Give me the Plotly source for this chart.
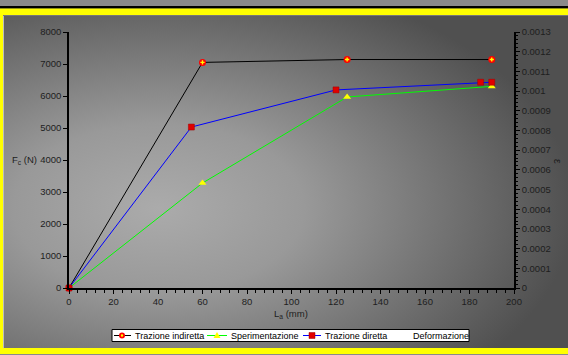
import base64
import plotly.graph_objects as go

# ---- data ----
x_indiretta = [0, 60, 125, 190]
y_indiretta = [0, 7050, 7140, 7140]
x_sperim = [0, 60, 125, 190]
y_sperim = [0, 3280, 5970, 6300]
x_diretta = [0, 55, 120, 185, 190]
y_diretta = [0, 5030, 6190, 6430, 6430]
x_deform = [0]
y_deform = [0]
y2_tickvals = [0, 0.0001, 0.0002, 0.0003, 0.0004, 0.0005, 0.0006, 0.0007,
               0.0008, 0.0009, 0.001, 0.0011, 0.0012, 0.0013]
y2_ticktext = ["0", "0.0001", "0.0002", "0.0003", "0.0004", "0.0005", "0.0006",
               "0.0007", "0.0008", "0.0009", "0.001", "0.0011", "0.0012", "0.0013"]
legend_names = ["Trazione indiretta", "Sperimentazione", "Trazione diretta", "Deformazione"]

W, H = 568, 355
L, R, T, B = 69, 514, 32, 288  # plot area in px
pw, ph = R - L, B - T

def px(x):
    return (x - L) / pw

def py(y):
    return (B - y) / ph

FONT = "Liberation Sans, Arial, sans-serif"
TXT = "#1e1e1e"
EDGE = "#505050"
YEL = "#ffff00"

fig = go.Figure()
fig.add_trace(go.Scatter(
    x=x_indiretta, y=y_indiretta, name=legend_names[0], mode="lines+markers",
    line=dict(color="black", width=1),
    marker=dict(symbol="circle", size=7, color="#ff0000", line=dict(width=0)),
    cliponaxis=False, showlegend=False))
fig.add_trace(go.Scatter(
    x=x_indiretta, y=y_indiretta, mode="markers", showlegend=False, hoverinfo="skip",
    marker=dict(symbol="cross", size=3.5, color=YEL, line=dict(width=0)),
    cliponaxis=False))
fig.add_trace(go.Scatter(
    x=x_sperim, y=y_sperim, name=legend_names[1], mode="lines+markers",
    line=dict(color="#00ff00", width=1),
    marker=dict(symbol="triangle-up", size=7, color=YEL, line=dict(width=0)),
    cliponaxis=False, showlegend=False))
fig.add_trace(go.Scatter(
    x=x_diretta, y=y_diretta, name=legend_names[2], mode="lines+markers",
    line=dict(color="#0000ff", width=1),
    marker=dict(symbol="square", size=6, color="#e00000", line=dict(color="#a00000", width=0.5)),
    cliponaxis=False, showlegend=False))
fig.add_trace(go.Scatter(
    x=x_deform, y=y_deform, name=legend_names[3], mode="lines", yaxis="y2",
    line=dict(color="rgba(0,0,0,0)", width=0), showlegend=False, hoverinfo="skip"))

# gradient panel as svg image (extends past the right edge, clipped by the page)
GX0, GY0, GX1, GY1 = 3, 15, W + 12, 348
GW, GH = GX1 - GX0, GY1 - GY0
svg = f'''<svg xmlns="http://www.w3.org/2000/svg" width="{GW}" height="{GH}" viewBox="0 0 {GW} {GH}" preserveAspectRatio="none">
<defs><radialGradient id="g" cx="0.27" cy="0.58" r="0.72" gradientUnits="objectBoundingBox">
<stop offset="0" stop-color="#ababab"/><stop offset="0.35" stop-color="#999999"/>
<stop offset="1" stop-color="{EDGE}"/></radialGradient></defs>
<rect x="0" y="0" width="{GW}" height="{GH}" fill="url(#g)"/>
</svg>'''
src = "data:image/svg+xml;base64," + base64.b64encode(svg.encode()).decode()
fig.add_layout_image(dict(source=src, xref="paper", yref="paper",
                          x=px(GX0), y=py(GY0), sizex=GW / pw, sizey=GH / ph,
                          sizing="stretch", layer="below", xanchor="left", yanchor="top"))

def prect(x0, y0, x1, y1, fill, line_color=None, lw=0, layer="above"):
    return dict(type="rect", xref="paper", yref="paper", x0=px(x0), x1=px(x1), y0=py(y0), y1=py(y1),
                fillcolor=fill, line=dict(width=lw, color=line_color or fill), layer=layer)

def pline(x0, y0, x1, y1, color, lw=1, layer="above"):
    return dict(type="line", xref="paper", yref="paper", x0=px(x0), x1=px(x1), y0=py(y0), y1=py(y1),
                line=dict(color=color, width=lw), layer=layer)

LY = 335.5  # legend center row
shapes = [
    # outer frame
    prect(0, 0, W, 6, "#8a8a8a", layer="below"),
    prect(0, 6, W, 8.5, "#000000", layer="below"),
    prect(0, 8.5, W, 15, YEL, layer="below"),
    prect(0, 15, 3, 348, YEL, layer="below"),
    prect(0, 348, W, 354, YEL, layer="below"),
    prect(0, 354, W, H, "#8a8a8a", layer="below"),
    pline(3.5, 15, 3.5, 348, "#bdbdbd", layer="below"),
    pline(3, 15.5, W, 15.5, "#777777", layer="below"),
    # legend box
    prect(112, 329.5, 469, 341.5, "white", "black", 1),
    pline(114, LY, 131, LY, "black"),
    dict(type="circle", xref="paper", yref="paper", x0=px(119), x1=px(125), y0=py(LY - 3), y1=py(LY + 3),
         fillcolor="#ff0000", line=dict(width=0), layer="above"),
    dict(type="circle", xref="paper", yref="paper", x0=px(120.8), x1=px(123.2), y0=py(LY - 1.2),
         y1=py(LY + 1.2), fillcolor=YEL, line=dict(width=0), layer="above"),
    pline(207, LY, 227, LY, "#00ff00"),
    dict(type="path", xref="paper", yref="paper",
         path=f"M {px(213.5)} {py(LY+2.5)} L {px(220.5)} {py(LY+2.5)} L {px(217)} {py(LY-3.5)} Z",
         fillcolor=YEL, line=dict(width=0), layer="above"),
    pline(303, LY, 321, LY, "#0000ff"),
    prect(309, LY - 3, 315, LY + 3, "#e00000", "#a00000", 0.5),
]

annotations = [
    dict(text="F<sub>c</sub> (N)", xref="paper", yref="y", x=px(39), y=4000, xanchor="right",
         yanchor="middle", showarrow=False, font=dict(family=FONT, size=9.5, color=TXT)),
    dict(text="L<sub>a</sub> (mm)", xref="paper", yref="paper", x=px(291), y=py(314), xanchor="center",
         yanchor="middle", showarrow=False, font=dict(family=FONT, size=9.5, color=TXT)),
    dict(text="ε", xref="paper", yref="paper", x=px(558), y=py(161), xanchor="center",
         yanchor="middle", showarrow=False, textangle=90, font=dict(family=FONT, size=10.5, color=TXT)),
]
for name, lx in zip(legend_names, [132.5, 228.5, 322.5, 410.5]):
    annotations.append(dict(text=name, xref="paper", yref="paper", x=px(lx), y=py(LY),
                            xanchor="left", yanchor="middle", showarrow=False,
                            font=dict(family=FONT, size=9, color="black")))

axis_common = dict(showline=True, linecolor="black", linewidth=1.5, showgrid=False, zeroline=False,
                   ticks="outside", tickcolor="black", tickwidth=1, automargin=False,
                   tickfont=dict(family=FONT, size=9.5, color=TXT))

fig.update_layout(
    width=W, height=H,
    margin=dict(l=L, r=W - R, t=T, b=H - B, autoexpand=False),
    paper_bgcolor=EDGE,
    plot_bgcolor="rgba(0,0,0,0)",
    font=dict(family=FONT, size=9.5, color=TXT),
    xaxis=dict(range=[0, 200], dtick=20, ticklen=4,
               minor=dict(dtick=4, ticks="outside", ticklen=3, tickcolor="black"), **axis_common),
    yaxis=dict(range=[0, 8000], dtick=1000, ticklen=4, **axis_common),
    yaxis2=dict(range=[0, 0.0013], overlaying="y", side="right", tickmode="array",
                tickvals=y2_tickvals, ticktext=y2_ticktext, ticklen=4,
                minor=dict(dtick=0.00002, ticks="outside", ticklen=2, tickcolor="black"),
                **axis_common),
    showlegend=False,
    shapes=shapes,
    annotations=annotations,
)

fig.write_html("out.html", config={"displayModeBar": False},
               post_script="document.body.style.margin='0';")
